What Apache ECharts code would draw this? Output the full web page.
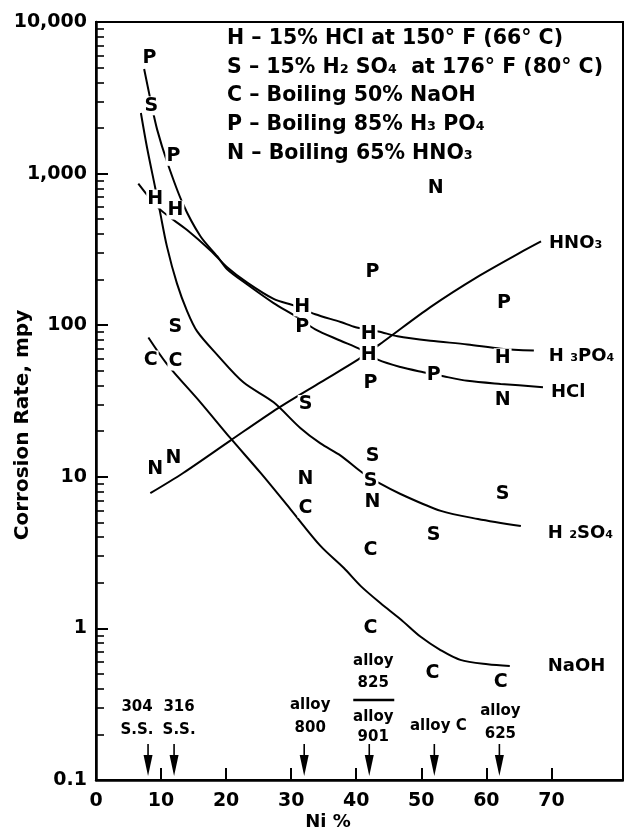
<!DOCTYPE html>
<html><head><meta charset="utf-8">
<script src="https://cdn.jsdelivr.net/npm/echarts@6/dist/echarts.min.js"></script>
<style>html,body{margin:0;padding:0;background:#fff}#c{width:624px;height:835px}</style>
</head><body><div id="c"></div>
<script>
// ---------------- data (Ni %, corrosion rate mpy) ----------------
const hno3X = [8.35, 13.4, 20.7, 28.0, 34.5, 40.2, 44.2, 51.45, 58.7, 65.8, 68.4];
const hno3Y = [7.8, 10.6, 17.4, 28.4, 42, 59, 78, 132, 209, 311, 357];

// upper right curve (labelled H3PO4 at its end)
const h3po4X = [6.5, 9.75, 14.05, 17.6, 20.2, 23.3, 27.3, 30.6, 33.7, 37.6, 39.9, 43.4, 46.35, 51.4, 57.1, 62.2, 67.3];
const h3po4Y = [858, 585, 423, 311, 240, 190, 149, 134, 118, 105, 97, 91, 84.5, 79, 74.7, 70, 68];

// lower right curve (labelled HCl at its end)
const hclX = [7.4, 8.35, 9.4, 11.0, 13.3, 16.05, 18.66, 20.2, 23.3, 27.3, 30.6, 33.7, 37.6, 40.7, 43.4, 46.8, 50.3, 53.4, 57.1, 62.2, 68.7];
const hclY = [4900, 3100, 1950, 1170, 640, 386, 284, 233, 185, 140, 115, 94, 79, 69, 59, 53, 49, 46, 43, 41, 39];

const h2so4X = [6.9, 7.85, 9.1, 9.75, 10.9, 12.45, 14.0, 15.55, 18.6, 22.65, 27.3, 31.4, 34.5, 37.6, 41.0, 43.7, 46.8, 53.0, 58.7, 65.3];
const h2so4Y = [2512, 1480, 807, 585, 331, 188, 124, 91, 64, 42, 31, 21, 16.6, 13.8, 10.6, 9.0, 7.7, 5.96, 5.27, 4.73];

const naohX = [8.05, 10.97, 16.05, 20.7, 25.3, 29.9, 34.5, 38.1, 40.7, 43.7, 46.8, 49.9, 52.95, 56.0, 60.2, 63.6];
const naohY = [83, 55, 31, 17.9, 10.6, 6.1, 3.5, 2.5, 1.9, 1.47, 1.15, 0.88, 0.72, 0.62, 0.58, 0.565];

// measured points (letters)
const hX = [9.1, 12.2, 31.7, 41.9, 41.9, 62.5];
const hY = [680, 575, 132, 87, 64, 61];
const sX = [8.5, 12.2, 32.2, 42.5, 42.2, 51.9, 62.5];
const sY = [2800, 97, 30, 13.8, 9.4, 4.1, 7.7];
const cX = [8.4, 12.2, 32.2, 42.2, 42.2, 51.7, 62.2];
const cY = [59, 58, 6.2, 3.3, 1.0, 0.51, 0.44];
const pX = [8.2, 11.9, 31.7, 42.5, 42.2, 51.9, 62.7];
const pY = [5800, 1300, 97, 225, 41.7, 47, 140];
const nX = [9.1, 11.9, 32.2, 42.5, 52.2, 62.5];
const nY = [11.3, 13.2, 9.7, 6.8, 807, 32];

// alloys (Ni %)
const alloyNi = [8, 12, 32, 42, 52, 62];
const alloyNames = ['304\nS.S.', '316\nS.S.', 'alloy\n800', 'alloy\n825|alloy\n901', 'alloy C', 'alloy\n625'];

// axis ticks
const xTickLabels = [0, 10, 20, 30, 40, 50, 60, 70];
const yTickLabels = [0.1, 1, 10, 100, 1000, 10000];

const legendLines = [
  'H – 15% HCl at 150° F (66° C)',
  'S – 15% H₂ SO₄  at 176° F (80° C)',
  'C – Boiling 50% NaOH',
  'P – Boiling 85% H₃ PO₄',
  'N – Boiling 65% HNO₃'
];
const yTitle = 'Corrosion Rate, mpy';
const xTitle = 'Ni %';

// ---------------- chart ----------------
const FONT = 'DejaVu Sans';
const zip = (xs, ys) => xs.map((x, i) => [x, ys[i]]);
const yMinor = [];
for (let d = 0.1; d < 10000; d *= 10) for (let k = 2; k <= 9; k++) yMinor.push(+(d * k).toPrecision(3));

const chart = echarts.init(document.getElementById('c'), null, {renderer: 'canvas'});

function lineSeries(xs, ys, label, dist, off) {
  return {
    type: 'line', data: zip(xs, ys), symbol: 'none', smooth: 0.3, silent: true,
    lineStyle: {color: '#000', width: 2}, z: 2,
    endLabel: {show: true, formatter: label, distance: dist, offset: off,
      fontFamily: FONT, fontWeight: 'bold', fontSize: 18, color: '#000'}
  };
}
function letterSeries(xs, ys, ch) {
  return {
    type: 'scatter', data: zip(xs, ys), symbolSize: 1, silent: true, z: 5,
    itemStyle: {color: 'rgba(0,0,0,0)'},
    label: {show: true, position: 'inside', formatter: ch, fontFamily: FONT, fontWeight: 'bold',
      fontSize: 19, color: '#000', opacity: 1, textBorderWidth: 0, textBorderColor: 'transparent',
      backgroundColor: '#fff', padding: [0, 1], lineHeight: 19}
  };
}

chart.setOption({
  animation: false,
  backgroundColor: '#fff',
  grid: {left: 96, right: 1, top: 22, bottom: 55, containLabel: false, outerBoundsMode: 'none',
    show: true, borderColor: '#000', borderWidth: 2},
  xAxis: {
    type: 'value', min: 0, max: 81, interval: 10,
    axisLine: {lineStyle: {color: '#000', width: 2.5}},
    axisTick: {inside: true, length: 12, lineStyle: {color: '#000', width: 2}, customValues: xTickLabels.slice(1)},
    axisLabel: {customValues: xTickLabels, fontFamily: FONT, fontWeight: 'bold', fontSize: 19, color: '#000', margin: 12},
    splitLine: {show: false}
  },
  yAxis: [{
    type: 'log', logBase: 10, min: 0.1, max: 10000,
    axisLine: {show: true, lineStyle: {color: '#000', width: 2.5}},
    axisTick: {show: true, inside: true, length: 12, lineStyle: {color: '#000', width: 2}, customValues: [1, 10, 100, 1000]},
    axisLabel: {customValues: yTickLabels, fontFamily: FONT, fontWeight: 'bold', fontSize: 19, color: '#000', margin: 9,
      formatter: v => v < 1 ? String(v) : Number(v).toLocaleString('en-US')},
    splitLine: {show: false}
  }, {
    type: 'log', logBase: 10, min: 0.1, max: 10000, position: 'left',
    axisLine: {show: false},
    axisTick: {show: true, inside: true, length: 8, lineStyle: {color: '#000', width: 1.6}, customValues: yMinor},
    axisLabel: {show: false}, splitLine: {show: false}
  }],
  series: [
    lineSeries(hno3X, hno3Y, 'HNO₃', 8, [0, 2]),
    lineSeries(h3po4X, h3po4Y, 'H ₃PO₄', 15, [0, 6]),
    lineSeries(hclX, hclY, 'HCl', 8, [0, 5]),
    lineSeries(h2so4X, h2so4Y, 'H ₂SO₄', 27, [0, 7]),
    lineSeries(naohX, naohY, 'NaOH', 38, [0, 0]),
    letterSeries(hX, hY, 'H'),
    letterSeries(sX, sY, 'S'),
    letterSeries(cX, cY, 'C'),
    letterSeries(pX, pY, 'P'),
    letterSeries(nX, nY, 'N')
  ]
});

// ---------------- annotations ----------------
const g = [];
const txt = (x, y, text, size, lh, align) => ({
  type: 'text', x: x, y: y, silent: true, z: 10,
  style: {text: text, fontFamily: FONT, fontWeight: 'bold', fontSize: size, lineHeight: lh,
    fill: '#000', align: align || 'center', verticalAlign: 'middle'}
});
legendLines.forEach((t, i) => g.push(txt(227, [39, 68, 96, 125, 154][i], t, 20.5, 22, 'left')));
// axis titles
const yt = txt(23, 425, yTitle, 20, 22);
yt.rotation = Math.PI / 2;
g.push(yt);
g.push(txt(328, 822, xTitle, 18, 20));

const axisY = chart.convertToPixel({yAxisIndex: 0}, 0.1);
const labelDx = [-11, 5, 6, 4, 4, 1];
const labelDy = [-61, -61, -63, 0, -54, -57];
alloyNi.forEach((ni, i) => {
  const px = chart.convertToPixel({xAxisIndex: 0}, ni);
  g.push({type: 'line', silent: true, shape: {x1: px, y1: axisY - 36, x2: px, y2: axisY - 22},
    style: {stroke: '#000', lineWidth: 1.6}});
  g.push({type: 'polygon', silent: true, shape: {points: [[px - 4.5, axisY - 25], [px + 4.5, axisY - 25], [px, axisY - 4]]},
    style: {fill: '#000'}});
  const name = alloyNames[i];
  if (name.indexOf('|') >= 0) {
    const parts = name.split('|');
    g.push(txt(px + labelDx[i], axisY - 108, parts[0], 15, 22));
    g.push({type: 'line', silent: true, shape: {x1: px - 16, y1: axisY - 80, x2: px + 25, y2: axisY - 80},
      style: {stroke: '#000', lineWidth: 2.5}});
    g.push(txt(px + labelDx[i], axisY - 53, parts[1], 15, 20));
  } else {
    g.push(txt(px + labelDx[i], axisY + labelDy[i], name, 15, 23));
  }
});
chart.setOption({graphic: g});
</script>
</body></html>
